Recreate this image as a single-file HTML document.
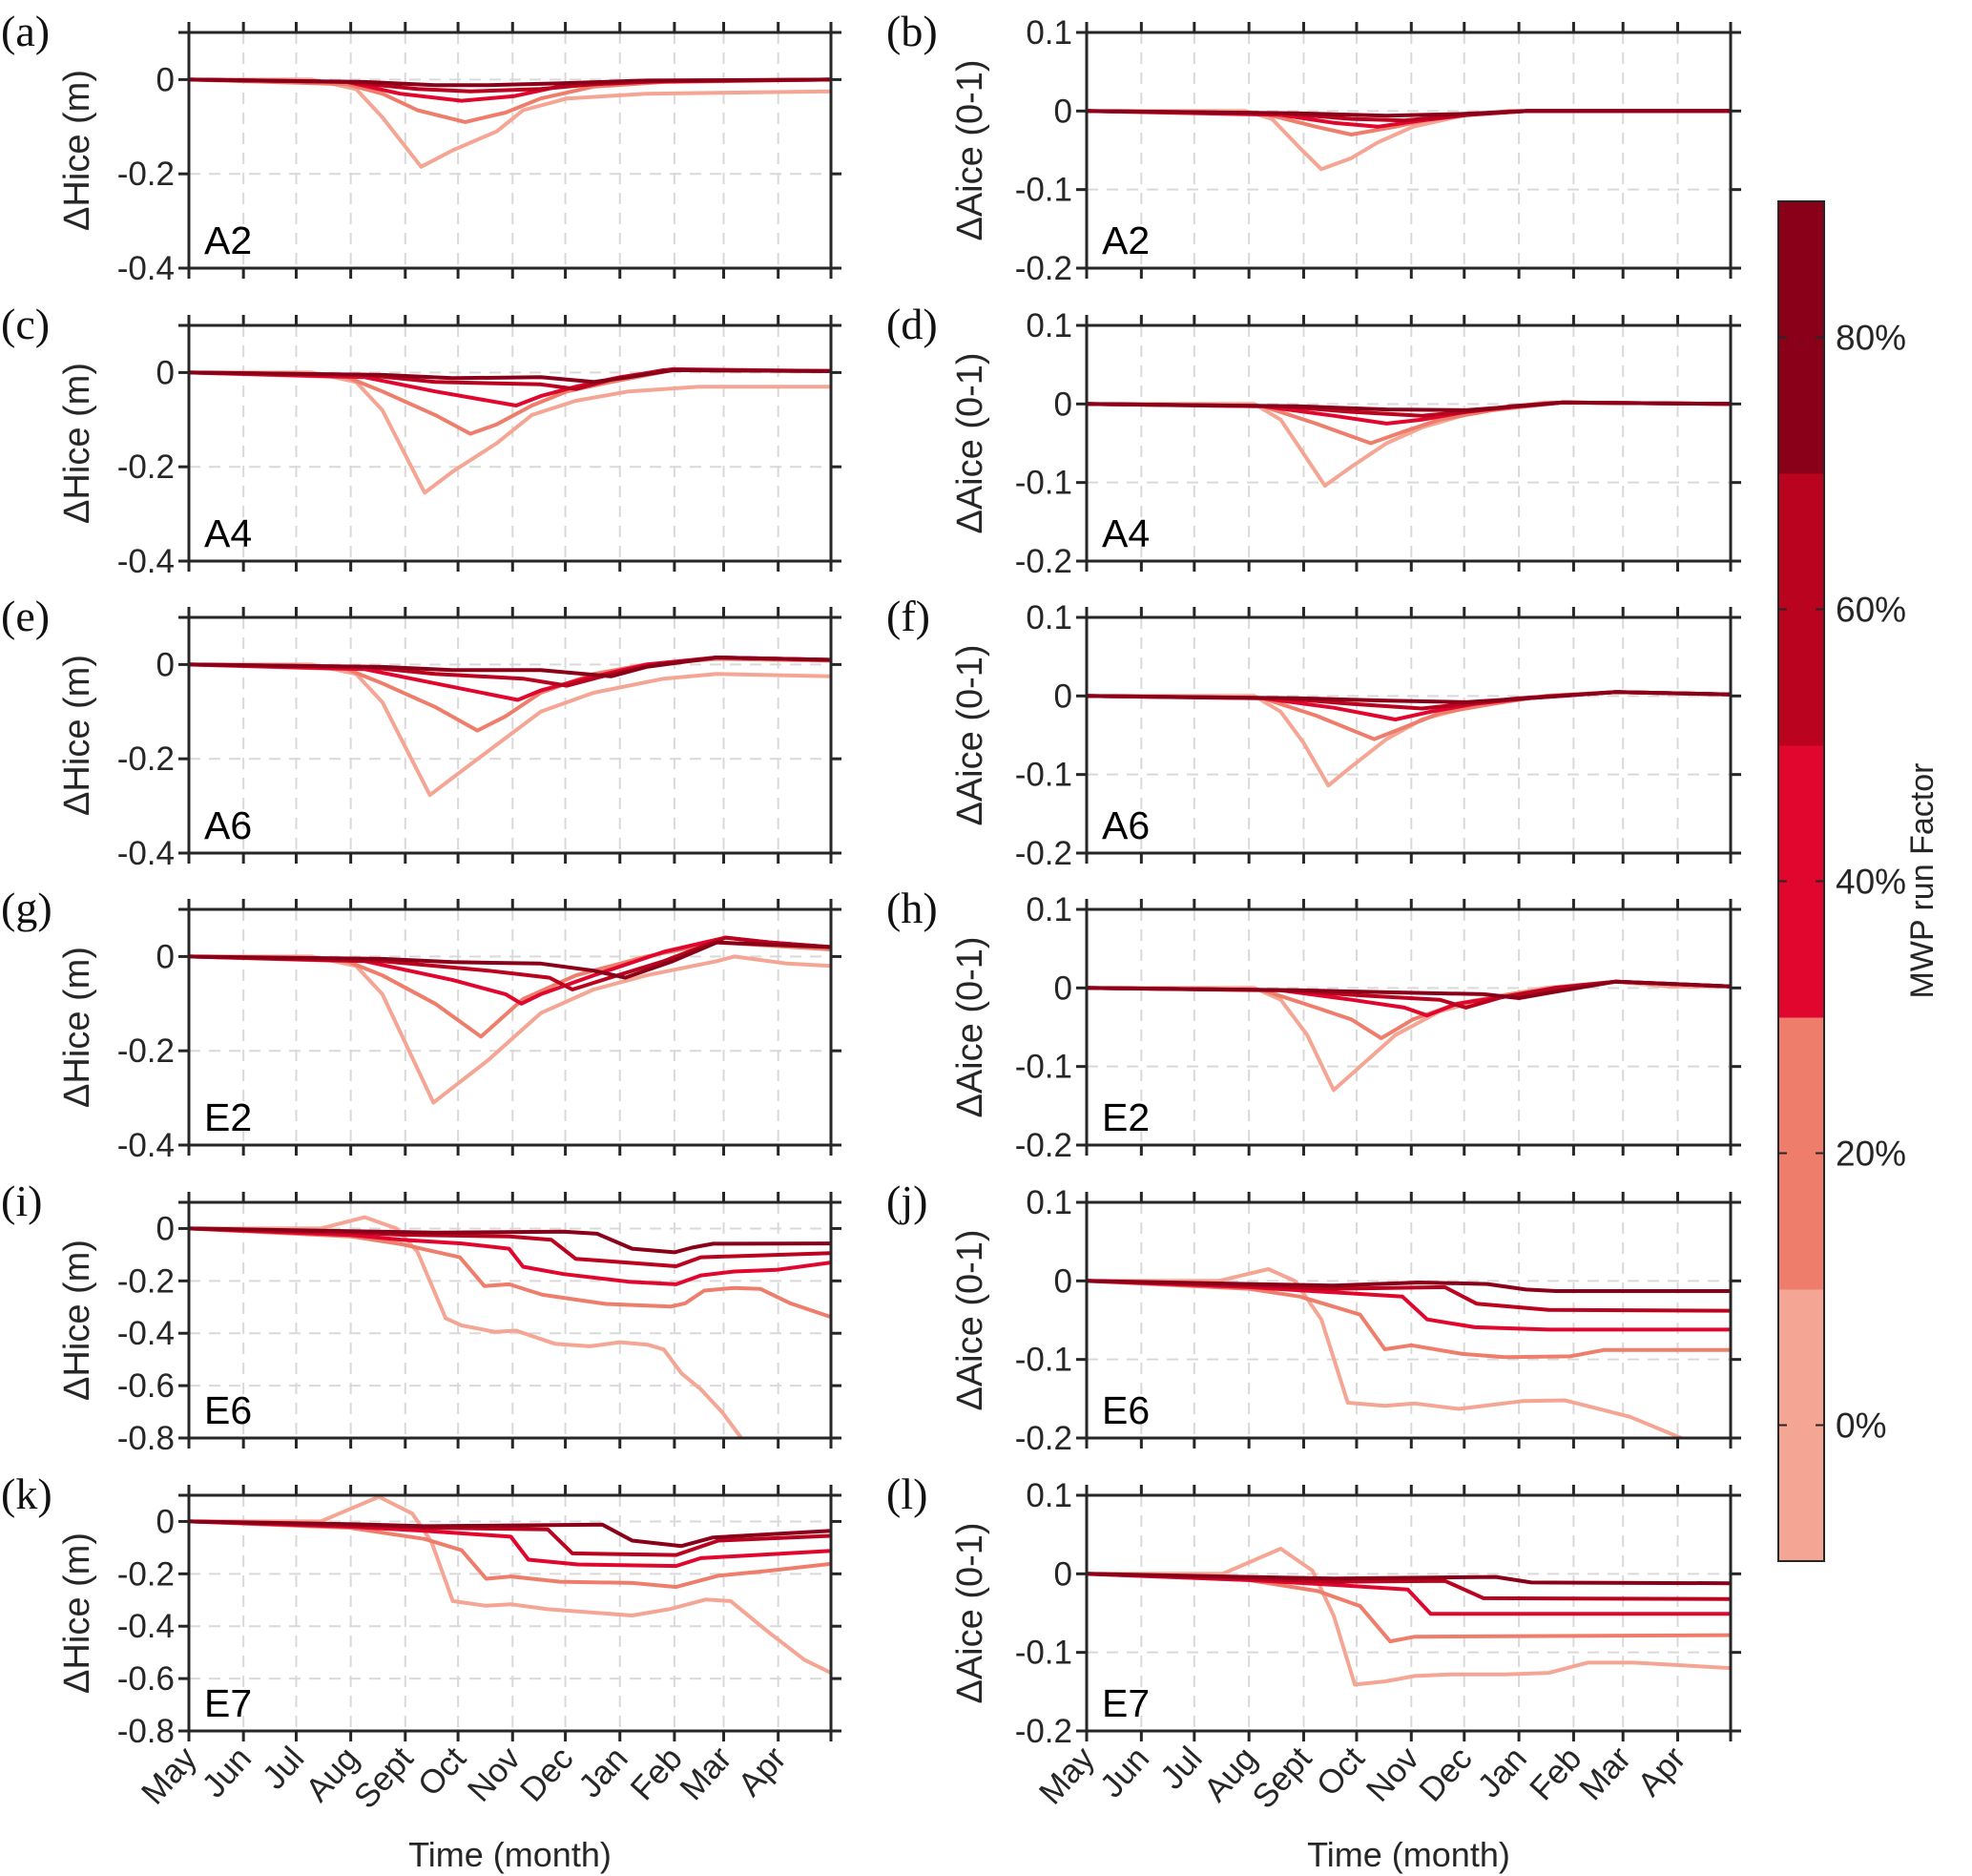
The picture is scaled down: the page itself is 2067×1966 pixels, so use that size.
<!DOCTYPE html>
<html><head><meta charset="utf-8"><style>
html,body{margin:0;padding:0;background:#fff;}
svg{display:block;font-family:"Liberation Sans",sans-serif;}
</style></head><body>
<svg id="fig" width="2067" height="1966" viewBox="0 0 2067 1966" xmlns="http://www.w3.org/2000/svg"></svg>
<script>
const monthLabels = ["May","Jun","Jul","Aug","Sept","Oct","Nov","Dec","Jan","Feb","Mar","Apr"];
const monthStartDays = [0,31,61,92,123,153,184,214,245,276,304,335];
const seriesColors = ["#f4a594","#ee7e6b","#e1062e","#b9031f","#8b0019"];
const factorLabels = ["0%","20%","40%","60%","80%"];

// Panel (a) Hice A2
const a_days = [[0,70,95,110,132,150,175,190,215,260,365],[0,90,110,130,157,180,200,230,270,365],[0,90,120,155,185,210,250,365],[0,90,130,160,200,230,270,365],[0,100,140,170,210,260,365]];
const a_vals = [[0,0,-0.02,-0.08,-0.185,-0.15,-0.11,-0.065,-0.04,-0.03,-0.025],[0,-0.01,-0.03,-0.065,-0.09,-0.07,-0.04,-0.015,-0.005,0],[0,-0.005,-0.03,-0.045,-0.035,-0.015,-0.005,0],[0,-0.005,-0.02,-0.025,-0.02,-0.01,-0.003,0],[0,-0.005,-0.012,-0.012,-0.008,-0.002,0]];
// Panel (b) Aice A2
const b_days = [[0,90,105,120,133,150,165,185,215,250,365],[0,100,130,150,175,200,240,365],[0,110,140,165,190,220,250,365],[0,110,150,180,210,250,365],[0,120,170,210,250,365]];
const b_vals = [[0,0,-0.01,-0.045,-0.074,-0.06,-0.04,-0.02,-0.005,0,0],[0,-0.003,-0.02,-0.03,-0.02,-0.008,0,0],[0,-0.005,-0.015,-0.02,-0.012,-0.004,0,0],[0,-0.003,-0.01,-0.012,-0.006,0,0],[0,-0.003,-0.006,-0.004,0,0]];
// Panel (c) Hice A4
const c_days = [[0,70,95,110,134,150,175,195,220,250,290,365],[0,90,110,140,160,175,195,215,240,275,365],[0,100,140,186,200,220,245,275,365],[0,100,140,200,220,240,270,365],[0,110,150,200,230,250,275,365]];
const c_vals = [[0,0,-0.02,-0.08,-0.255,-0.21,-0.15,-0.09,-0.06,-0.04,-0.03,-0.03],[0,-0.01,-0.04,-0.09,-0.13,-0.11,-0.07,-0.04,-0.02,0.005,0.003],[0,-0.01,-0.04,-0.07,-0.05,-0.03,-0.01,0.007,0.003],[0,-0.005,-0.02,-0.025,-0.035,-0.015,0.005,0.003],[0,-0.005,-0.012,-0.01,-0.02,-0.01,0.005,0.003]];
// Panel (d) Aice A4
const d_days = [[0,95,110,122,135,150,170,190,220,260,365],[0,100,130,161,180,200,230,270,365],[0,100,140,170,190,215,245,270,365],[0,110,150,190,215,240,270,365],[0,120,170,215,245,270,365]];
const d_vals = [[0,0,-0.02,-0.06,-0.104,-0.08,-0.05,-0.03,-0.01,0.002,0],[0,-0.003,-0.025,-0.05,-0.035,-0.02,-0.008,0.002,0],[0,-0.003,-0.015,-0.025,-0.02,-0.01,-0.003,0.002,0],[0,-0.003,-0.01,-0.015,-0.01,-0.003,0.002,0],[0,-0.003,-0.007,-0.008,-0.003,0.002,0]];
// Panel (e) Hice A6
const e_days = [[0,70,95,110,137,150,175,200,230,270,300,365],[0,90,110,140,164,180,200,230,260,300,365],[0,100,140,187,200,225,260,300,365],[0,100,140,190,215,235,265,300,365],[0,110,150,200,240,260,300,365]];
const e_vals = [[0,0,-0.02,-0.08,-0.277,-0.24,-0.17,-0.1,-0.06,-0.03,-0.02,-0.025],[0,-0.01,-0.04,-0.09,-0.14,-0.11,-0.06,-0.02,0,0.012,0.008],[0,-0.01,-0.04,-0.075,-0.055,-0.03,0,0.015,0.01],[0,-0.005,-0.02,-0.03,-0.045,-0.025,0,0.015,0.01],[0,-0.005,-0.012,-0.012,-0.025,-0.005,0.015,0.01]];
// Panel (f) Aice A6
const f_days = [[0,95,110,123,137,150,170,190,220,260,300,365],[0,100,130,163,180,200,230,260,300,365],[0,100,140,175,195,220,250,300,365],[0,110,150,190,215,245,300,365],[0,120,170,215,250,300,365]];
const f_vals = [[0,0,-0.02,-0.06,-0.114,-0.09,-0.055,-0.03,-0.012,0,0.005,0.002],[0,-0.003,-0.025,-0.055,-0.04,-0.022,-0.01,0,0.005,0.002],[0,-0.003,-0.015,-0.03,-0.02,-0.01,-0.003,0.005,0.002],[0,-0.003,-0.01,-0.016,-0.01,-0.003,0.005,0.002],[0,-0.003,-0.006,-0.008,-0.003,0.005,0.002]];
// Panel (g) Hice E2
const g_days = [[0,70,95,110,139,170,200,230,260,300,310,340,365],[0,90,110,140,166,190,220,260,300,365],[0,100,150,180,189,200,230,270,305,330,365],[0,110,170,205,218,235,270,305,330,365],[0,110,150,200,230,248,275,300,330,365]];
const g_vals = [[0,0,-0.02,-0.08,-0.31,-0.22,-0.12,-0.07,-0.04,-0.01,0,-0.015,-0.02],[0,-0.01,-0.04,-0.1,-0.17,-0.09,-0.04,0,0.03,0.015],[0,-0.01,-0.05,-0.08,-0.1,-0.08,-0.04,0.01,0.04,0.03,0.02],[0,-0.01,-0.03,-0.045,-0.07,-0.05,-0.01,0.04,0.03,0.02],[0,-0.005,-0.012,-0.015,-0.03,-0.045,-0.01,0.03,0.025,0.02]];
// Panel (h) Aice E2
const h_days = [[0,95,110,125,140,155,175,200,230,260,300,330,365],[0,100,130,150,167,185,210,240,270,300,365],[0,110,150,180,193,210,240,270,300,365],[0,110,160,200,215,235,265,300,365],[0,120,180,225,245,265,300,365]];
const h_vals = [[0,0,-0.015,-0.06,-0.13,-0.1,-0.06,-0.03,-0.012,0,0.008,0.002,0.002],[0,-0.003,-0.025,-0.04,-0.064,-0.04,-0.02,-0.008,0,0.008,0.002],[0,-0.003,-0.015,-0.025,-0.035,-0.02,-0.01,0,0.008,0.002],[0,-0.003,-0.01,-0.015,-0.025,-0.012,0,0.008,0.002],[0,-0.003,-0.006,-0.008,-0.013,-0.005,0.008,0.002]];
// Panel (i) Hice E6
const i_days = [[0,75,100,118,130,146,155,174,186,208,228,245,261,270,280,291,303,314,320],[0,92,121,154,168,182,201,237,274,282,293,310,325,342,365],[0,92,121,155,182,190,213,250,277,291,310,334,365],[0,92,121,182,206,220,237,277,291,365],[0,92,140,213,232,252,276,286,298,365]];
const i_vals = [[0,0,0.043,0,-0.09,-0.343,-0.37,-0.395,-0.39,-0.44,-0.45,-0.434,-0.444,-0.462,-0.553,-0.614,-0.7,-0.8,-0.86],[0,-0.03,-0.06,-0.11,-0.22,-0.213,-0.253,-0.288,-0.298,-0.286,-0.237,-0.227,-0.231,-0.286,-0.338],[0,-0.025,-0.043,-0.057,-0.077,-0.146,-0.174,-0.203,-0.213,-0.179,-0.164,-0.158,-0.13],[0,-0.015,-0.024,-0.03,-0.043,-0.116,-0.124,-0.144,-0.11,-0.094],[0,-0.01,-0.016,-0.012,-0.02,-0.077,-0.091,-0.073,-0.058,-0.057]];
// Panel (j) Aice E6
const j_days = [[0,75,103,118,133,148,169,186,211,247,271,308,337,345],[0,92,121,155,169,184,213,237,274,293,365],[0,92,121,179,193,220,262,365],[0,92,140,203,221,262,365],[0,92,140,189,227,249,266,365]];
const j_vals = [[0,0,0.015,0,-0.049,-0.155,-0.159,-0.156,-0.163,-0.153,-0.152,-0.173,-0.2,-0.21],[0,-0.01,-0.02,-0.043,-0.087,-0.082,-0.093,-0.097,-0.096,-0.088,-0.088],[0,-0.008,-0.012,-0.02,-0.049,-0.059,-0.062,-0.062],[0,-0.006,-0.01,-0.008,-0.029,-0.037,-0.038],[0,-0.004,-0.006,-0.002,-0.004,-0.011,-0.013,-0.013]];
// Panel (k) Hice E7
const k_days = [[0,75,108,127,138,150,169,183,204,252,273,294,308,329,350,365],[0,91,134,155,169,183,211,252,277,301,329,365],[0,91,134,183,193,221,277,291,365],[0,91,134,204,218,277,301,365],[0,91,134,235,252,280,298,365]];
const k_vals = [[0,0,0.094,0.03,-0.079,-0.304,-0.322,-0.316,-0.335,-0.359,-0.335,-0.298,-0.304,-0.42,-0.529,-0.578],[0,-0.024,-0.067,-0.11,-0.219,-0.21,-0.23,-0.235,-0.25,-0.207,-0.189,-0.162],[0,-0.02,-0.036,-0.058,-0.146,-0.164,-0.17,-0.14,-0.112],[0,-0.015,-0.024,-0.03,-0.122,-0.128,-0.073,-0.055],[0,-0.01,-0.018,-0.012,-0.073,-0.094,-0.061,-0.036]];
// Panel (l) Aice E7
const l_days = [[0,77,110,128,140,152,169,186,206,237,262,284,310,365],[0,92,131,155,172,186,365],[0,92,140,182,195,365],[0,92,140,203,225,365],[0,92,140,232,252,365]];
const l_vals = [[0,0,0.032,0.004,-0.053,-0.141,-0.137,-0.13,-0.128,-0.128,-0.126,-0.113,-0.113,-0.12],[0,-0.008,-0.022,-0.041,-0.086,-0.08,-0.078],[0,-0.008,-0.014,-0.02,-0.051,-0.051],[0,-0.006,-0.01,-0.009,-0.031,-0.032],[0,-0.004,-0.006,-0.004,-0.011,-0.012]];

const hTicks4 = [0,-0.2,-0.4];
const hTickLabels4 = ["0","-0.2","-0.4"];
const hTicks8 = [0,-0.2,-0.4,-0.6,-0.8];
const hTickLabels8 = ["0","-0.2","-0.4","-0.6","-0.8"];
const aTicks = [0.1,0,-0.1,-0.2];
const aTickLabels = ["0.1","0","-0.1","-0.2"];

const NS="http://www.w3.org/2000/svg";
const svg=document.getElementById('fig');
function mk(tag,attrs,parent){const e=document.createElementNS(NS,tag);for(const k in attrs)e.setAttribute(k,attrs[k]);(parent||svg).appendChild(e);return e;}

const rowTops=[34,341,647,953,1260,1567];
const PH=247;
const colLeft=[198,1139], PW=[673,675];

const panels=[
 {id:'a',col:0,row:0,site:'A2',days:a_days,vals:a_vals,ymin:-0.4,ymax:0.1,ticks:hTicks4,tl:hTickLabels4},
 {id:'b',col:1,row:0,site:'A2',days:b_days,vals:b_vals,ymin:-0.2,ymax:0.1,ticks:aTicks,tl:aTickLabels},
 {id:'c',col:0,row:1,site:'A4',days:c_days,vals:c_vals,ymin:-0.4,ymax:0.1,ticks:hTicks4,tl:hTickLabels4},
 {id:'d',col:1,row:1,site:'A4',days:d_days,vals:d_vals,ymin:-0.2,ymax:0.1,ticks:aTicks,tl:aTickLabels},
 {id:'e',col:0,row:2,site:'A6',days:e_days,vals:e_vals,ymin:-0.4,ymax:0.1,ticks:hTicks4,tl:hTickLabels4},
 {id:'f',col:1,row:2,site:'A6',days:f_days,vals:f_vals,ymin:-0.2,ymax:0.1,ticks:aTicks,tl:aTickLabels},
 {id:'g',col:0,row:3,site:'E2',days:g_days,vals:g_vals,ymin:-0.4,ymax:0.1,ticks:hTicks4,tl:hTickLabels4},
 {id:'h',col:1,row:3,site:'E2',days:h_days,vals:h_vals,ymin:-0.2,ymax:0.1,ticks:aTicks,tl:aTickLabels},
 {id:'i',col:0,row:4,site:'E6',days:i_days,vals:i_vals,ymin:-0.8,ymax:0.1,ticks:hTicks8,tl:hTickLabels8},
 {id:'j',col:1,row:4,site:'E6',days:j_days,vals:j_vals,ymin:-0.2,ymax:0.1,ticks:aTicks,tl:aTickLabels},
 {id:'k',col:0,row:5,site:'E7',days:k_days,vals:k_vals,ymin:-0.8,ymax:0.1,ticks:hTicks8,tl:hTickLabels8},
 {id:'l',col:1,row:5,site:'E7',days:l_days,vals:l_vals,ymin:-0.2,ymax:0.1,ticks:aTicks,tl:aTickLabels}
];

panels.forEach(p=>{
 const L=colLeft[p.col], W=PW[p.col], T=rowTops[p.row], H=PH;
 const xs=d=>L+d/365*W;
 const ys=v=>T+(p.ymax-v)/(p.ymax-p.ymin)*H;
 const g=mk('g',{});
 
 
 mk('defs',{},g).appendChild((()=>{const c=document.createElementNS(NS,'clipPath');c.setAttribute('id','clip'+p.id);mk('rect',{x:L,y:T,width:W,height:H},c);return c;})());
 monthStartDays.forEach((d,k)=>{ if(k>0){const ln=mk('line',{x1:xs(d),x2:xs(d),y1:T,y2:T+H,stroke:'#d9d9d9','stroke-width':2,'stroke-dasharray':'12,9'},g);
  }});
 p.ticks.forEach(v=>{ if(v<p.ymax && v>p.ymin){const ln=mk('line',{x1:L,x2:L+W,y1:ys(v),y2:ys(v),stroke:'#d9d9d9','stroke-width':2,'stroke-dasharray':'12,9'},g);
  }});
 p.days.forEach((ds,si)=>{
  const pts=ds.map((d,k)=>xs(d).toFixed(1)+','+ys(p.vals[si][k]).toFixed(1)).join(' ');
  const pl=mk('polyline',{points:pts,fill:'none',stroke:seriesColors[si],'stroke-width':4,'stroke-linejoin':'round','clip-path':'url(#clip'+p.id+')'},g);
  
  
 });
 const bx=mk('rect',{x:L,y:T,width:W,height:H,fill:'none',stroke:'#262626','stroke-width':3},g);
 
 monthStartDays.concat([365]).forEach(d=>{
  mk('line',{x1:xs(d),x2:xs(d),y1:T,y2:T-11,stroke:'#262626','stroke-width':3},g);
  mk('line',{x1:xs(d),x2:xs(d),y1:T+H,y2:T+H+11,stroke:'#262626','stroke-width':3},g);
 });
 p.ticks.concat([p.ymax,p.ymin]).forEach(v=>{
  mk('line',{x1:L,x2:L-11,y1:ys(v),y2:ys(v),stroke:'#262626','stroke-width':3},g);
  mk('line',{x1:L+W,x2:L+W+11,y1:ys(v),y2:ys(v),stroke:'#262626','stroke-width':3},g);
 });
 p.ticks.forEach((v,k)=>{
  const t=mk('text',{x:L-15,y:ys(v)+12,'text-anchor':'end','font-size':35,fill:'#262626'},g);
  t.textContent=p.tl[k];
  
 });
 const yl=mk('text',{x:0,y:0,'text-anchor':'middle','font-size':38,fill:'#262626',transform:`translate(${L-(p.col?110:105)},${T+H/2}) rotate(-90)`},g);
 yl.textContent=p.col?'ΔAice (0-1)':'ΔHice (m)';
 
 const pl=mk('text',{x:p.col?929:1,y:T+14,'font-family':'Liberation Serif, serif','font-size':46,fill:'#111'},g);
 pl.textContent='('+p.id+')';
 
 const sl=mk('text',{x:L+16,y:T+H-15,'font-size':41,fill:'#000'},g);
 sl.textContent=p.site;
 
 if(p.row===5){
  monthStartDays.forEach((d,k)=>{
   const t=mk('text',{x:0,y:0,'text-anchor':'end','font-size':35,fill:'#262626',transform:`translate(${xs(d)+10},${T+H+30}) rotate(-48)`},g);
   t.textContent=monthLabels[k];
   
  });
  const xt=mk('text',{x:L+W/2,y:1956,'text-anchor':'middle','font-size':36,fill:'#262626'},g);
  xt.textContent='Time (month)';
  
 }
});

const cbTop=211, cbBot=1636, cbL=1864, cbW=48;
const cbG=mk('g',{});


const segH=(cbBot-cbTop)/5;
seriesColors.forEach((c,k)=>{
 const r=mk('rect',{x:cbL,y:cbBot-(k+1)*segH,width:cbW,height:segH+0.5,fill:c},cbG);
 
 const cy=cbBot-(k+0.5)*segH;
 mk('line',{x1:cbL,x2:cbL+9,y1:cy,y2:cy,stroke:'#262626','stroke-width':2},cbG);
 mk('line',{x1:cbL+cbW,x2:cbL+cbW-9,y1:cy,y2:cy,stroke:'#262626','stroke-width':2},cbG);
 const t=mk('text',{x:cbL+60,y:cy+13,'font-size':37,fill:'#262626'},cbG);
 t.textContent=factorLabels[k];
 
});
mk('rect',{x:cbL,y:cbTop,width:cbW,height:cbBot-cbTop,fill:'none',stroke:'#262626','stroke-width':2},cbG);
const ct=mk('text',{x:0,y:0,'text-anchor':'middle','font-size':34,fill:'#262626',transform:'translate(2026,923) rotate(-90)'},cbG);
ct.textContent='MWP run Factor';

</script>
</body></html>
